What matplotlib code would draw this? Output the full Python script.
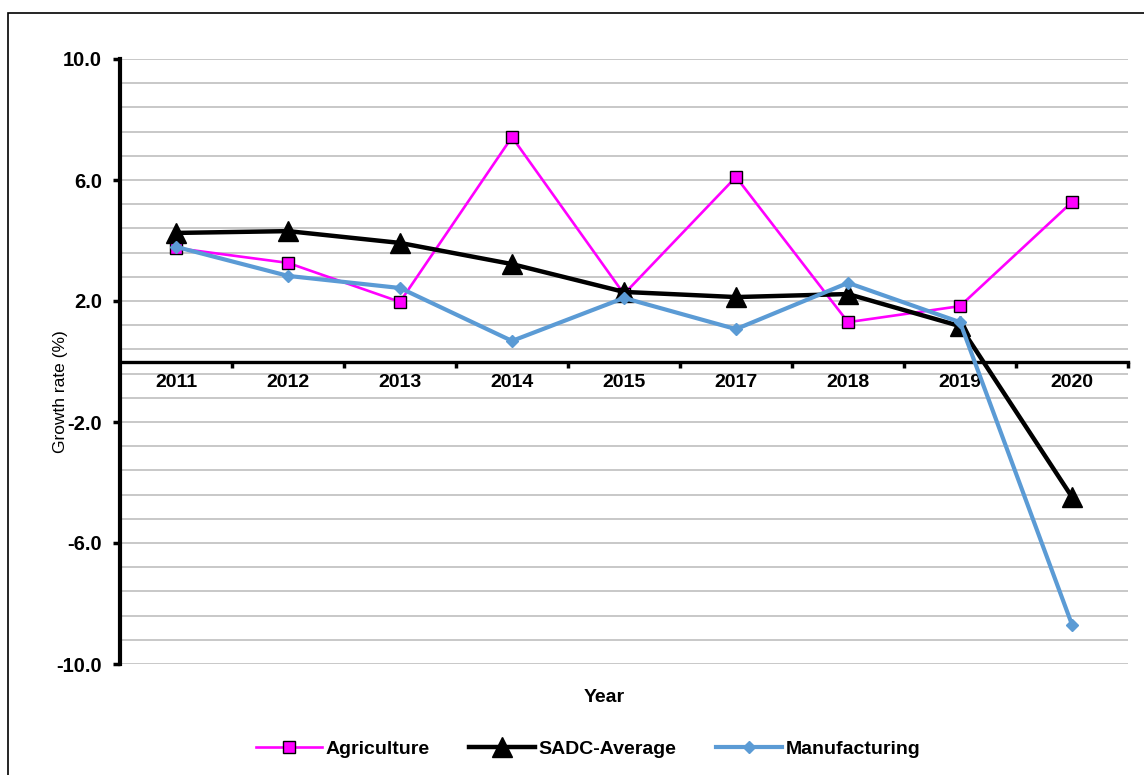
import numpy as np
import matplotlib
matplotlib.use('Agg')
import matplotlib.pyplot as plt
from matplotlib.patches import Rectangle

plt.rcParams['font.family'] = ['Liberation Sans', 'DejaVu Sans']

# Data
years = ['2011', '2012', '2013', '2014', '2015', '2017', '2018', '2019', '2020']
agriculture = [3.75, 3.26, 1.97, 7.42, 2.23, 6.10, 1.30, 1.83, 5.27]
sadc_average = [4.25, 4.31, 3.92, 3.22, 2.30, 2.13, 2.23, 1.17, -4.48]
manufacturing = [3.79, 2.83, 2.43, 0.68, 2.10, 1.07, 2.60, 1.30, -8.70]

W, H = 1144, 775
fig = plt.figure(figsize=(W / 100, H / 100), dpi=100)
ax = fig.add_axes([120 / W, 1 - 664 / H, 1008 / W, 605 / H])

x = np.arange(len(years))

# Gridlines every 0.8
for g in np.arange(-10, 10.01, 0.8):
    ax.axhline(g, color='#c4c4c4', lw=1.3, zorder=0)

ax.plot(x, agriculture, color='#ff00ff', lw=1.9, marker='s', ms=8,
        mfc='#ff00ff', mec='black', mew=1.0, label='Agriculture', zorder=3)
ax.plot(x, sadc_average, color='black', lw=3.2, marker='^', ms=15,
        mfc='black', mec='black', label='SADC-Average', zorder=4)
ax.plot(x, manufacturing, color='#5b9bd5', lw=3.0, marker='D', ms=6.5,
        mfc='#5b9bd5', mec='#5b9bd5', label='Manufacturing', zorder=5)

ax.set_xlim(-0.5, len(years) - 0.5)
ax.set_ylim(-10, 10)

# Spines
for s in ['top', 'right']:
    ax.spines[s].set_visible(False)
ax.spines['left'].set_linewidth(3.0)
ax.spines['bottom'].set_position(('data', 0))
ax.spines['bottom'].set_linewidth(2.4)
ax.spines['bottom'].set_zorder(2)

# Y ticks
yt = [-10, -6, -2, 2, 6, 10]
ax.set_yticks(yt)
ax.set_yticklabels([f'{v:.1f}' for v in yt], fontsize=14.5, fontweight='bold')
ax.tick_params(axis='y', length=5, width=2.5, pad=8)

# X ticks: labels at centres, marks at boundaries
ax.set_xticks(x)
ax.set_xticklabels(years, fontsize=14, fontweight='bold')
ax.tick_params(axis='x', which='major', length=0, pad=9)
ax.set_xticks(np.arange(0.5, len(years), 1), minor=True)
ax.tick_params(axis='x', which='minor', length=4, width=2.5, direction='out')

fig.text(60 / W, 1 - 392 / H, 'Growth rate (%)', rotation=90, fontsize=12.5,
         ha='center', va='center')
fig.text(604 / W, 1 - 698 / H, 'Year', fontsize=14, fontweight='bold',
         ha='center', va='center')

leg = fig.legend(loc='center', bbox_to_anchor=(588 / W, 1 - 749 / H), ncol=3,
                 frameon=False, handlelength=3.4, columnspacing=2.0,
                 handletextpad=0.2, prop={'size': 14, 'weight': 'bold'})

# Outer chart border
fig.patches.append(Rectangle((8 / W, -0.05), 1.1, 1 - 13 / H + 0.05,
                             transform=fig.transFigure, fill=False,
                             edgecolor='black', lw=1.2))

plt.savefig('out.png', dpi=100)
